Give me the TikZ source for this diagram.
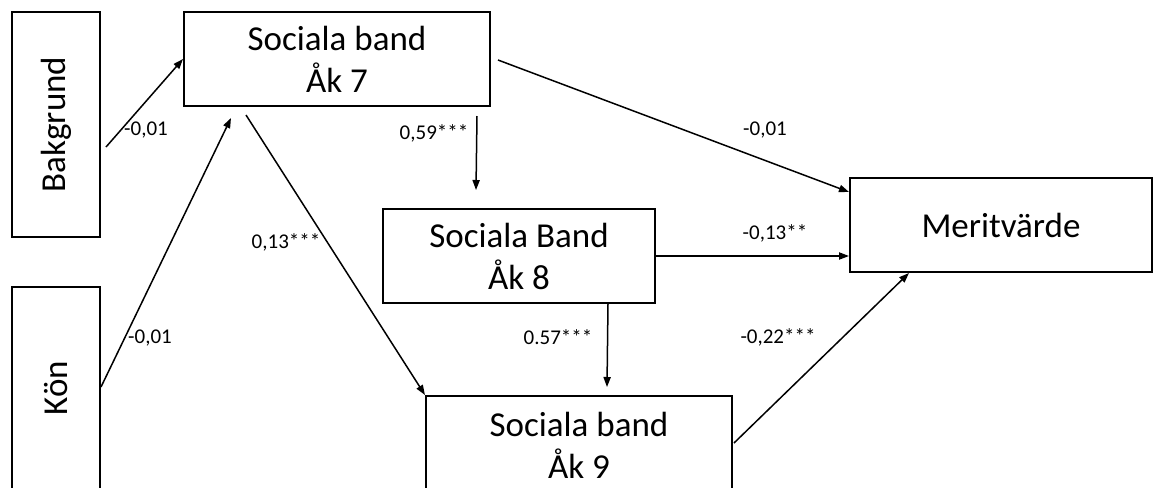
\documentclass[tikz,border=0pt]{standalone}
\usepackage{fontspec}
\setmainfont{Carlito}
\usepackage{graphicx}
\usetikzlibrary{arrows.meta,calc}
\begin{document}
\begin{tikzpicture}[x=0.5pt,y=-0.5pt,
  box/.style={draw,line width=1pt,inner sep=0pt,align=center,font=\fontsize{17.5}{21}\selectfont},
  arr/.style={-{Triangle[length=5pt,width=3.6pt]},line width=0.75pt},
  lab/.style={font=\fontsize{10.5}{12}\selectfont,inner sep=0pt}]
\useasboundingbox (0,0) rectangle (1153,488);
\clip (0,0) rectangle (1153,488);
\fill[white] (0,0) rectangle (1153,488);
% boxes
\node[box,minimum width=44pt,minimum height=112.5pt] (bak) at (56,124.5) {\rotatebox{90}{Bakgrund}};
\node[box,minimum width=44pt,minimum height=101pt] (kon) at (56,388) {\rotatebox{90}{Kön}};
\node[box,minimum width=153pt,minimum height=47pt] (s7) at (337,59) {Sociala band\\Åk 7};
\node[box,minimum width=136pt,minimum height=47pt] (s8) at (519,256) {Sociala Band\\Åk 8};
\node[box,minimum width=153pt,minimum height=49pt] (s9) at (579,445) {Sociala band\\Åk 9};
\node[box,minimum width=151pt,minimum height=47pt] (mer) at (1001,225) {Meritvärde};
% connectors
\draw[arr] ($(bak.east)+(5,22.5)$) -- (s7.west);
\draw[arr] ($(kon.east)+(0,-1)$) -- ($(s7.south west)+(48,11)$);
\draw[arr] ($(s7.south west)+(63,8)$) -- (s9.north west);
\draw[arr] ($(s7.south east)+(-14,9)$) -- ($(s8.north)+(-43,-18)$);
\draw[arr] ($(s8.south east)+(-48,0)$) -- ($(s9.north)+(28,-8)$);
\draw[arr] ($(s7.east)+(7,1)$) -- ($(mer.west)+(0,-33)$);
\draw[arr] (s8.east) -- ($(mer.west)+(0,31)$);
\draw[arr] ($(s9.east)+(1,-2)$) -- ($(mer.south west)+(60,0)$);
% labels
\node[lab] (l1) at (146,130) {-0,01};
\node[lab] (l2) at (150,338) {-0,01};
\node[lab] (l3) at (286,242) {0,13***};
\node[lab] (l4) at (434,133) {0,59***};
\node[lab] (l5) at (558,337) {0.57***};
\node[lab] (l6) at (765,130) {-0,01};
\node[lab] (l7) at (775,233) {-0,13**};
\node[lab] (l8) at (778,337) {-0,22***};
\end{tikzpicture}
\end{document}
